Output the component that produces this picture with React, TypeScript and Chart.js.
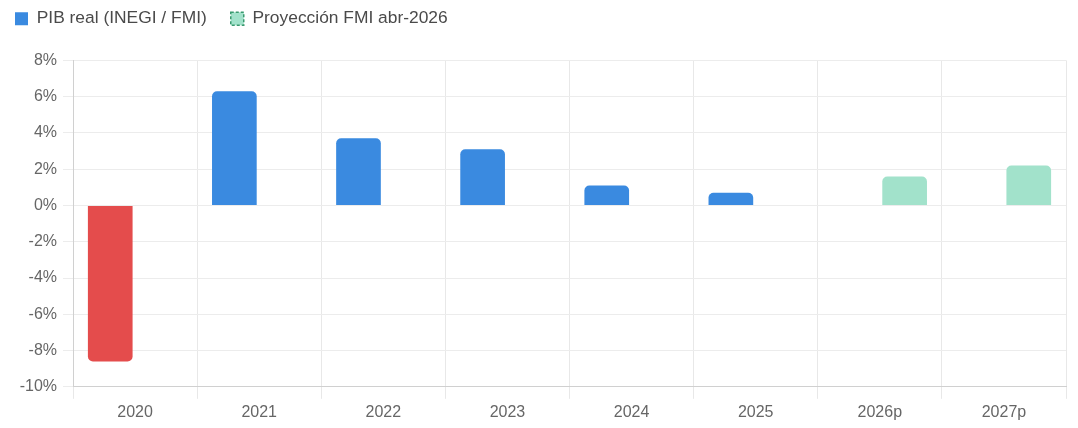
import React, { useEffect, useRef } from 'react';
import { Chart, registerables } from 'chart.js';

Chart.register(...registerables);

const years = ['2020', '2021', '2022', '2023', '2024', '2025', '2026p', '2027p'];
const pibReal = [-8.6, 6.3, 3.7, 3.1, 1.1, 0.7, null, null];
const proyeccionFmi = [null, null, null, null, null, null, 1.6, 2.2];
const yTicks = [8, 6, 4, 2, 0, -2, -4, -6, -8, -10];

const BLUE = '#3a8ae0';
const RED = '#e44c4c';
const GREEN = '#a2e2cb';
const GREEN_DARK = '#3a9a70';
const FONT = '"Liberation Sans", Arial, sans-serif';

// pushes the plot down below the legend
const legendMargin = {
    id: 'legendMargin',
    beforeInit(chart: any) {
        const fit = chart.legend.fit;
        chart.legend.fit = function () {
            fit.bind(chart.legend)();
            this.height += 23;
        };
    },
};

export default function App() {
    const canvasRef = useRef<HTMLCanvasElement>(null);

    useEffect(() => {
        document.body.style.margin = '0';
        if (!canvasRef.current) return;

        const chart = new Chart(canvasRef.current, {
            type: 'bar',
            data: {
                labels: years,
                datasets: [
                    {
                        label: 'PIB real (INEGI / FMI)',
                        data: pibReal,
                        backgroundColor: pibReal.map(v => (v !== null && v < 0 ? RED : BLUE)),
                        borderWidth: 0,
                        borderRadius: 5,
                    },
                    {
                        label: 'Proyección FMI abr-2026',
                        data: proyeccionFmi,
                        backgroundColor: GREEN,
                        borderWidth: 0,
                        borderRadius: 5,
                    },
                ],
            },
            options: {
                animation: false,
                responsive: true,
                maintainAspectRatio: false,
                layout: { padding: { left: 0, right: 12, top: 0, bottom: 2 } },
                plugins: {
                    legend: {
                        position: 'top',
                        align: 'start',
                        labels: {
                            color: '#4a4a4a',
                            boxWidth: 13,
                            boxHeight: 13,
                            useBorderRadius: true,
                            borderRadius: 3,
                            padding: 24,
                            font: { size: 17.4, family: FONT },
                            generateLabels: () => [
                                {
                                    text: 'PIB real (INEGI / FMI)',
                                    fillStyle: BLUE,
                                    strokeStyle: BLUE,
                                    lineWidth: 0,
                                    fontColor: '#4a4a4a',
                                    datasetIndex: 0,
                                    hidden: false,
                                },
                                {
                                    text: 'Proyección FMI abr-2026',
                                    fillStyle: GREEN,
                                    strokeStyle: GREEN_DARK,
                                    lineWidth: 1.5,
                                    lineDash: [3, 2],
                                    fontColor: '#4a4a4a',
                                    datasetIndex: 1,
                                    hidden: false,
                                },
                            ],
                        },
                    },
                    tooltip: { enabled: false },
                },
                scales: {
                    x: {
                        grid: { color: '#e8e8e8', tickLength: 12 },
                        border: { color: '#d0d0d0' },
                        ticks: {
                            color: '#666',
                            padding: 4,
                            font: { size: 16, family: FONT },
                        },
                    },
                    y: {
                        min: -10,
                        max: 8,
                        grid: { color: '#ececec', tickLength: 10 },
                        border: { color: '#d0d0d0' },
                        afterBuildTicks: axis => {
                            axis.ticks = yTicks.map(v => ({ value: v }));
                        },
                        afterFit: axis => {
                            axis.width = 82;
                        },
                        ticks: {
                            color: '#666',
                            padding: 6,
                            font: { size: 16, family: FONT },
                            callback: v => `${v}%`,
                        },
                    },
                },
            },
            plugins: [legendMargin],
        });

        return () => {
            chart.destroy();
        };
    }, []);

    return (
        <div style={{ width: 1087, height: 442, marginLeft: -9, marginTop: -14, position: 'relative' }}>
            <canvas ref={canvasRef} />
        </div>
    );
}
